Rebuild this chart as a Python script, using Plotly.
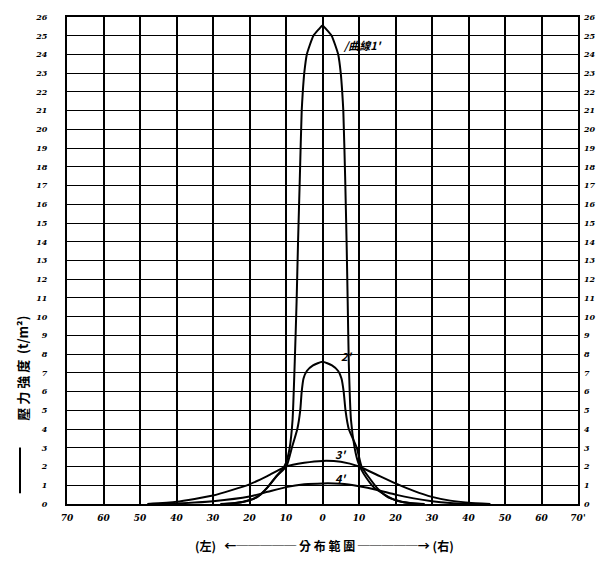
import plotly.graph_objects as go

# ---- data ----
c1_x = [-28, -24, -20, -17, -15, -13, -11, -10, -9, -8.2, -7.6, -7.1, -6.7, -6.2, -5.7, -5.4, -5.0, -4.3, -2.5, -1.0, 0,
        1.0, 2.5, 4.3, 5.0, 5.4, 5.7, 6.2, 6.6, 6.9, 7.2, 7.8, 8.8, 9.8, 10.6, 12, 14, 17, 20, 24, 28]
c1_y = [0, 0.05, 0.2, 0.5, 0.9, 1.4, 1.85, 2.2, 3.0, 4.5, 7.6, 10.8, 14, 17.5, 21, 22, 23, 24, 25, 25.35, 25.55,
        25.35, 25, 24, 23, 22, 21, 17.5, 14, 10.8, 7.6, 4.5, 3.0, 2.2, 1.85, 1.4, 0.9, 0.5, 0.2, 0.05, 0]

c2_x = [-27, -22, -18, -15, -12.5, -9.9, -8.4, -6.9, -6.1, -5.7, -5.2, -4.3, -2.6, 0,
        2.6, 4.3, 5.2, 5.8, 6.3, 7.2, 9.4, 10.7, 12.8, 15, 18, 22, 27]
c2_y = [0, 0.1, 0.35, 0.9, 1.5, 2.0, 3.0, 4.0, 5.0, 6.0, 6.7, 7.1, 7.4, 7.6,
        7.4, 7.1, 6.7, 6.0, 5.0, 4.0, 3.0, 2.0, 1.4, 0.85, 0.35, 0.1, 0]

c3_x = [-48, -40, -30, -20, -15, -10, -5, 0, 5, 10, 15, 20, 25, 30, 35, 40, 46]
c3_y = [0, 0.12, 0.45, 1.05, 1.5, 2.0, 2.2, 2.3, 2.25, 2.0, 1.55, 1.1, 0.7, 0.38, 0.18, 0.07, 0]

c4_x = [-45, -40, -30, -20, -15, -10, -5, 0, 5, 10, 15, 20, 25, 30, 35, 42]
c4_y = [0, 0.03, 0.15, 0.4, 0.65, 0.9, 1.05, 1.1, 1.08, 0.95, 0.75, 0.5, 0.3, 0.15, 0.06, 0]

curve_names = ["曲線1'", "2'", "3'", "4'"]

x_tickvals = [-70, -60, -50, -40, -30, -20, -10, 0, 10, 20, 30, 40, 50, 60, 70]
x_ticktext = ["70", "60", "50", "40", "30", "20", "10", "0", "10", "20", "30", "40", "50", "60", "70'"]
y_tickvals = list(range(0, 27))
y_ticktext = [str(v) for v in y_tickvals]

y_title = "壓 力 強 度  (t/m²)"
x_title = "(左)   ←───── 分 布 範 圍 ─────→ (右)"

# ---- figure ----
fig = go.Figure()
line_style = dict(color="black", width=2, shape="spline", smoothing=0.5)
for xs, ys in [(c1_x, c1_y), (c2_x, c2_y), (c3_x, c3_y), (c4_x, c4_y)]:
    fig.add_trace(go.Scatter(x=xs, y=ys, mode="lines", line=line_style,
                             showlegend=False, hoverinfo="skip"))
# invisible trace for right-hand axis
fig.add_trace(go.Scatter(x=[0], y=[0], yaxis="y2", mode="markers",
                         marker=dict(opacity=0), showlegend=False, hoverinfo="skip"))

tick_font = dict(family="DejaVu Serif", size=9, color="black", weight="bold", style="italic")

fig.update_layout(
    width=608, height=562,
    margin=dict(l=67, r=18, t=13, b=58),
    paper_bgcolor="white", plot_bgcolor="white",
    xaxis=dict(range=[-70, 70], tickvals=x_tickvals, ticktext=x_ticktext,
               showgrid=True, gridcolor="black", gridwidth=1.8,
               showline=True, linecolor="black", linewidth=2, mirror=True,
               ticks="", tickfont=tick_font, ticklabelstandoff=4, zeroline=False),
    yaxis=dict(range=[0, 26], tickvals=y_tickvals, ticktext=y_ticktext,
               showgrid=True, gridcolor="black", gridwidth=1.3,
               showline=True, linecolor="black", linewidth=2, mirror=True,
               ticks="", tickfont=dict(tick_font, size=8), ticklabelstandoff=16, zeroline=False),
    yaxis2=dict(range=[0, 26], overlaying="y", side="right",
                tickvals=y_tickvals, ticktext=y_ticktext,
                showgrid=False, ticks="", tickfont=dict(tick_font, size=8), ticklabelstandoff=5,
                zeroline=False, showline=False),
    font=dict(family="Noto Sans CJK TC", color="black"),
)

label_pos = [(5.2, 24.5), (4.5, 7.9), (3.0, 2.65), (3.0, 1.4)]
for name, (lx, ly) in zip(curve_names, label_pos):
    txt = "/" + name if name.startswith("曲") else name
    fig.add_annotation(x=lx, y=ly, text=txt, showarrow=False, xanchor="left",
                       font=dict(family="Noto Sans CJK TC, DejaVu Serif", size=11,
                                 color="black", weight="bold", style="italic"))

# y-axis title (rotated) with leading line
fig.add_annotation(xref="paper", yref="paper", x=-0.086, y=0.278, text=y_title,
                   textangle=-90, showarrow=False, xanchor="center", yanchor="middle",
                   font=dict(family="Noto Sans CJK TC", size=13, color="black", weight="bold"))
fig.add_shape(type="line", xref="paper", yref="paper", x0=-0.092, x1=-0.092,
              y0=0.022, y1=0.116, line=dict(color="black", width=2))

# x-axis title
fig.add_annotation(xref="paper", yref="paper", x=0.503, y=-0.085, text=x_title,
                   showarrow=False, xanchor="center", yanchor="middle",
                   font=dict(family="Noto Sans CJK TC", size=12, color="black", weight="bold"))

fig.write_html("out.html", config={"displayModeBar": False},
               post_script="document.body.style.margin='0px';document.body.style.padding='0px';")
